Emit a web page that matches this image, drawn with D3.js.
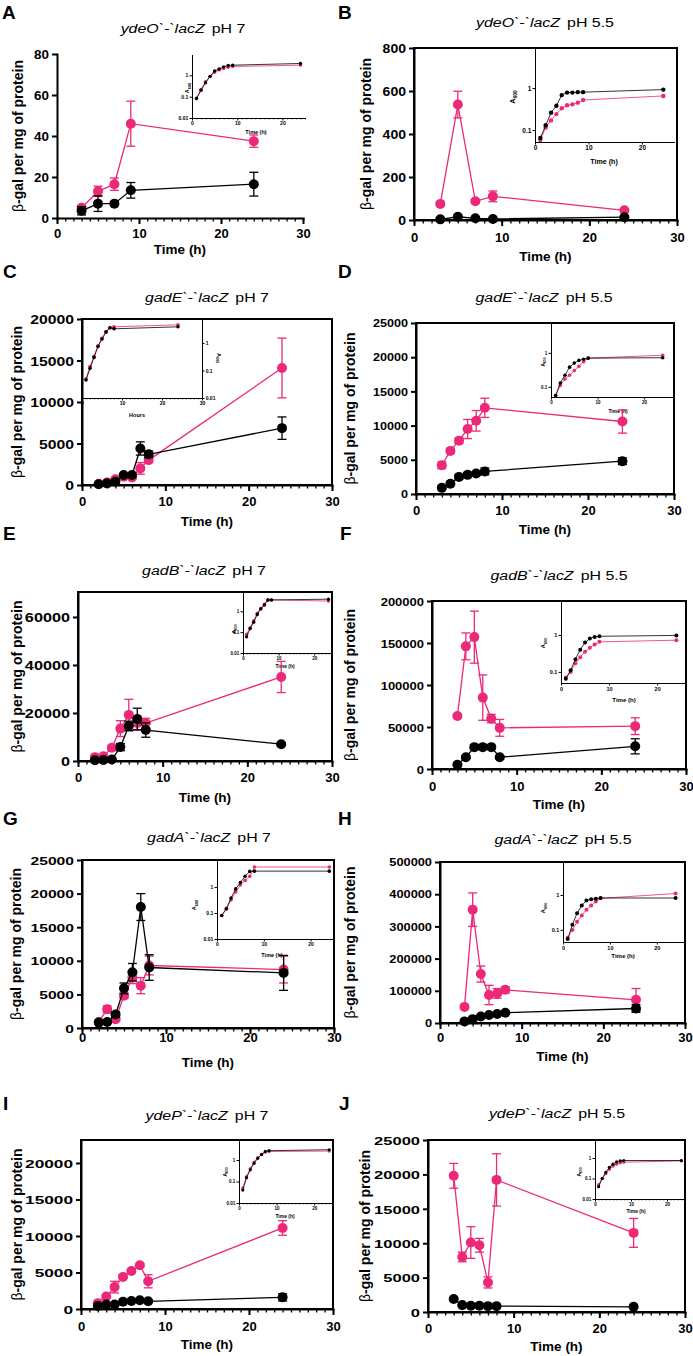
<!DOCTYPE html>
<html><head><meta charset="utf-8">
<script src="https://cdn.jsdelivr.net/npm/d3@7"></script>
<style>body{margin:0;background:#fff} svg{display:block}</style>
</head><body>
<svg id="fig" width="693" height="1356"></svg>
<script>
// ---------------- DATA ----------------
const letters = ["A","B","C","D","E","F","G","H","I","J"];
const genes = ["ydeO`-`lacZ","ydeO`-`lacZ","gadE`-`lacZ","gadE`-`lacZ","gadB`-`lacZ","gadB`-`lacZ","gadA`-`lacZ","gadA`-`lacZ","ydeP`-`lacZ","ydeP`-`lacZ"];
const phs = ["pH 7","pH 5.5","pH 7","pH 5.5","pH 7","pH 5.5","pH 7","pH 5.5","pH 7","pH 5.5"];
const xTicksMain = [0,10,20,30];
const insetLogTicks = [0.01,0.1,1];

// A
const timeA = [3,5,7,9,24];
const pinkA = [5,13,16.5,46,37.5];
const pinkErrA = [1,2.5,3,11,3];
const blackA = [3.5,7,7,13.5,16.5];
const blackErrA = [2,3.8,0.5,3.8,5.8];
const yTicksA = [0,20,40,60,80];
const insetTimeA = [1,2,3,4,5,6,7,8,9,24];
const insetPinkA = [0.08,0.22,0.5,0.9,1.4,1.8,2.1,2.4,2.6,3.0];
const insetBlackA = [0.085,0.2,0.45,0.9,1.6,2.0,2.5,2.9,3.0,3.6];
// B
const timeB = [3,5,7,9,24];
const pinkB = [75,537,87,110,45];
const pinkErrB = [5,62,8,25,6];
const blackB = [3,15,8,5,13];
const blackErrB = [1,4,2,1,5];
const yTicksB = [0,200,400,600,800];
const insetTimeB = [1,2,3,4,5,6,7,8,9,24];
const insetPinkB = [0.058,0.115,0.17,0.24,0.33,0.39,0.41,0.45,0.52,0.65];
const insetBlackB = [0.065,0.13,0.26,0.38,0.68,0.78,0.78,0.8,0.8,0.92];
// C
const timeC = [2,3,4,5,6,7,8,24];
const pinkC = [150,300,700,1000,900,2000,3000,14100];
const pinkErrC = [50,100,200,200,200,700,300,3600];
const blackC = [100,200,400,1200,1200,4400,3700,6850];
const blackErrC = [50,50,100,150,150,800,400,1350];
const yTicksC = [0,5000,10000,15000,20000];
const insetTimeC = [1,2,3,4,5,6,7,8,24];
const insetPinkC = [0.05,0.14,0.33,0.8,1.5,2.6,3.6,3.9,4.6];
const insetBlackC = [0.045,0.12,0.3,0.75,1.4,2.5,3.6,3.3,3.9];
// D
const timeD = [3,4,5,6,7,8,24];
const pinkD = [4200,6300,7800,9500,10700,12600,10600];
const pinkErrD = [500,300,400,1400,1500,1400,1700];
const blackD = [900,1500,2500,2800,3000,3300,4800];
const blackErrD = [100,200,300,300,300,500,500];
const yTicksD = [0,5000,10000,15000,20000,25000];
const insetTimeD = [1,2,3,4,5,6,7,8,24];
const insetPinkD = [0.055,0.11,0.17,0.22,0.3,0.4,0.55,0.7,0.85];
const insetBlackD = [0.055,0.13,0.22,0.38,0.5,0.6,0.65,0.7,0.72];
// E
const timeE = [2,3,4,5,6,7,8,24];
const pinkE = [1600,2000,5500,13500,19200,15800,15800,35000];
const pinkErrE = [300,500,1000,3300,6500,3000,2000,6500];
const blackE = [300,400,600,5800,14600,17500,12900,7000];
const blackErrE = [100,100,200,1500,2000,4500,3000,600];
const yTicksE = [0,20000,40000,60000];
const insetTimeE = [1,2,3,4,5,6,7,8,24];
const insetPinkE = [0.08,0.16,0.35,0.8,1.4,2.2,3.5,3.5,3.1];
const insetBlackE = [0.06,0.15,0.3,0.7,1.3,2.0,3.5,3.5,3.8];
// F
const timeF = [3,4,5,6,7,8,24];
const pinkF = [63000,146000,157000,85000,60000,49000,51000];
const pinkErrF = [2000,16000,31000,27000,5000,10000,10000];
const blackF = [5000,14000,26000,26000,26000,14000,27000];
const blackErrF = [1000,2000,3000,2000,2000,2000,9000];
const yTicksF = [0,50000,100000,150000,200000];
const insetTimeF = [1,2,3,4,5,6,7,8,24];
const insetPinkF = [0.07,0.1,0.17,0.25,0.35,0.45,0.55,0.65,0.72];
const insetBlackF = [0.065,0.11,0.22,0.4,0.62,0.8,0.88,0.92,0.97];
// G
const timeG = [2,3,4,5,6,7,8,24];
const pinkG = [900,2800,1300,4800,7500,6300,9300,8700];
const pinkErrG = [200,500,300,400,900,1200,1400,2000];
const blackG = [800,900,2000,5900,8300,18000,9000,8200];
const blackErrG = [200,200,400,800,1300,2000,1900,2600];
const yTicksG = [0,5000,10000,15000,20000,25000];
const insetTimeG = [1,2,3,4,5,6,7,8,24];
const insetPinkG = [0.08,0.14,0.32,0.65,1.2,1.8,2.6,5.9,5.9];
const insetBlackG = [0.08,0.15,0.38,0.85,1.5,2.6,4.0,4.1,4.1];
// H
const timeH = [3,4,5,6,7,8,24];
const pinkH = [50000,352000,152000,87000,92000,103000,72000];
const pinkErrH = [2000,52000,25000,30000,15000,10000,35000];
const blackH = [5000,12000,20000,25000,28000,32000,45000];
const blackErrH = [1000,1500,2000,2000,2000,2000,12000];
const yTicksH = [0,100000,200000,300000,400000,500000];
const insetTimeH = [1,2,3,4,5,6,7,8,24];
const insetPinkH = [0.06,0.1,0.17,0.26,0.38,0.5,0.65,0.8,1.1];
const insetBlackH = [0.055,0.14,0.3,0.5,0.7,0.75,0.78,0.82,0.82];
// I
const timeI = [2,3,4,5,6,7,8,24];
const pinkI = [800,1700,3000,4400,5200,6000,3800,11100];
const pinkErrI = [100,200,800,200,200,200,900,1000];
const blackI = [400,600,600,1000,1100,1200,1050,1600];
const blackErrI = [100,100,100,100,100,100,100,500];
const yTicksI = [0,5000,10000,15000,20000];
const insetTimeI = [1,2,3,4,5,6,7,8,24];
const insetPinkI = [0.05,0.17,0.4,0.8,1.3,1.8,2.3,2.5,2.6];
const insetBlackI = [0.04,0.15,0.35,0.7,1.2,1.8,2.5,2.7,3.0];
// J
const timeJ = [3,4,5,6,7,8,24];
const pinkJ = [19800,8000,10100,9700,4300,19200,11500];
const pinkErrJ = [1800,700,2300,1000,800,3800,2100];
const blackJ = [1900,1000,900,900,850,850,750];
const blackErrJ = [100,100,50,50,50,50,50];
const yTicksJ = [0,5000,10000,15000,20000,25000];
const insetTimeJ = [1,2,3,4,5,6,7,8,24];
const insetPinkJ = [0.05,0.1,0.17,0.28,0.4,0.5,0.58,0.62,0.72];
const insetBlackJ = [0.04,0.1,0.2,0.35,0.5,0.65,0.72,0.75,0.75];

const series = {
  A:{t:timeA,p:pinkA,pe:pinkErrA,b:blackA,be:blackErrA,yt:yTicksA,it:insetTimeA,ip:insetPinkA,ib:insetBlackA},
  B:{t:timeB,p:pinkB,pe:pinkErrB,b:blackB,be:blackErrB,yt:yTicksB,it:insetTimeB,ip:insetPinkB,ib:insetBlackB},
  C:{t:timeC,p:pinkC,pe:pinkErrC,b:blackC,be:blackErrC,yt:yTicksC,it:insetTimeC,ip:insetPinkC,ib:insetBlackC},
  D:{t:timeD,p:pinkD,pe:pinkErrD,b:blackD,be:blackErrD,yt:yTicksD,it:insetTimeD,ip:insetPinkD,ib:insetBlackD},
  E:{t:timeE,p:pinkE,pe:pinkErrE,b:blackE,be:blackErrE,yt:yTicksE,it:insetTimeE,ip:insetPinkE,ib:insetBlackE},
  F:{t:timeF,p:pinkF,pe:pinkErrF,b:blackF,be:blackErrF,yt:yTicksF,it:insetTimeF,ip:insetPinkF,ib:insetBlackF},
  G:{t:timeG,p:pinkG,pe:pinkErrG,b:blackG,be:blackErrG,yt:yTicksG,it:insetTimeG,ip:insetPinkG,ib:insetBlackG},
  H:{t:timeH,p:pinkH,pe:pinkErrH,b:blackH,be:blackErrH,yt:yTicksH,it:insetTimeH,ip:insetPinkH,ib:insetBlackH},
  I:{t:timeI,p:pinkI,pe:pinkErrI,b:blackI,be:blackErrI,yt:yTicksI,it:insetTimeI,ip:insetPinkI,ib:insetBlackI},
  J:{t:timeJ,p:pinkJ,pe:pinkErrJ,b:blackJ,be:blackErrJ,yt:yTicksJ,it:insetTimeJ,ip:insetPinkJ,ib:insetBlackJ}
};

// ---------------- LAYOUT ----------------
const layout = {
  A:{letter:[2,19],title:[183,33],x0:57,x1:303,yTop:54,yBot:218,yMax:80,box:false,yLabX:23,xLabBase:238,xTitleBase:254,tickFs:12,tickSx:1.12,
     inset:{x0:192,x1:305,xMax:25,yBot:118,yTop:55,yMin:0.01,yMax:9,side:"left",fs:5,r:1.7,minor:true,xTicks:[0,10,20],xLabel:"Time (h)",xLab:[256,134],a600:[189,88]}},
  B:{letter:[338,19],title:[545,27],x0:414,x1:677,yTop:48,yBot:220,yMax:800,box:true,yLabX:371,xLabBase:242,xTitleBase:261,tickFs:12,tickSx:1.17,
     inset:{x0:535,x1:674,xMax:26,yBot:142,yTop:48,yMin:0.052,yMax:9,side:"left",fs:6.5,r:2.2,minor:false,xTicks:[0,10,20],xLabel:"Time (h)",xLab:[604,164],a600:[515,97]}},
  C:{letter:[3,278],title:[207,302],x0:82,x1:332,yTop:319,yBot:485,yMax:20000,box:true,yLabX:22,xLabBase:506,xTitleBase:526,tickFs:12.5,tickSx:1.26,
     inset:{x0:82,x1:202,xMax:30,yBot:398,yTop:319,yMin:0.01,yMax:7.5,side:"right",fs:5,r:1.8,minor:true,xTicks:[0,10,20,30],xLabel:"Hours",xLab:[137,417],a600:[217,358]}},
  D:{letter:[338,278],title:[544,302],x0:416,x1:674,yTop:323,yBot:494,yMax:25000,box:true,yLabX:355,xLabBase:515,xTitleBase:534,tickFs:10.5,tickSx:1.2,
     inset:{x0:551,x1:672,xMax:26,yBot:397,yTop:323,yMin:0.05,yMax:7.6,side:"left",fs:4.5,r:1.8,minor:false,xTicks:[0,10,20],xLabel:"Time (h)",xLab:[618,413],a600:[545,362]}},
  E:{letter:[3,540],title:[204,575],x0:78,x1:332,yTop:592,yBot:761,yMax:70400,box:true,yLabX:22,xLabBase:782,xTitleBase:802,tickFs:12.5,tickSx:1.3,
     inset:{x0:243,x1:332,xMax:25,yBot:653,yTop:592,yMin:0.01,yMax:8.4,side:"left",fs:4.5,r:1.7,minor:true,xTicks:[0,10,20],xLabel:"Time (h)",xLab:[285,668],a600:[236,629]}},
  F:{letter:[340,540],title:[559,580],x0:432,x1:686,yTop:601,yBot:769,yMax:200000,box:true,yLabX:355,xLabBase:791,xTitleBase:809,tickFs:11.5,tickSx:1.13,
     inset:{x0:561,x1:686,xMax:26,yBot:683,yTop:601,yMin:0.05,yMax:8.3,side:"left",fs:5.5,r:2,minor:false,xTicks:[0,10,20],xLabel:"Time (h)",xLab:[624,702],a600:[545,643]}},
  G:{letter:[3,825],title:[209,842],x0:82,x1:334,yTop:860,yBot:1028,yMax:25000,box:true,yLabX:21,xLabBase:1042,xTitleBase:1067,tickFs:11.5,tickSx:1.36,
     inset:{x0:217,x1:334,xMax:25,yBot:939,yTop:860,yMin:0.01,yMax:11,side:"left",fs:5,r:1.8,minor:false,xTicks:[0,10,20],xLabel:"Time (h)",xLab:[272,957],a600:[196,905]}},
  H:{letter:[338,825],title:[563,844],x0:440,x1:685,yTop:862,yBot:1023,yMax:500000,box:true,yLabX:355,xLabBase:1042,xTitleBase:1061,tickFs:10.5,tickSx:1.22,
     inset:{x0:563,x1:685,xMax:26,yBot:942,yTop:862,yMin:0.045,yMax:8.8,side:"left",fs:5.5,r:2,minor:false,xTicks:[0,10,20],xLabel:"Time (h)",xLab:[623,958],a600:[545,908]}},
  I:{letter:[3,1110],title:[207,1120],x0:81,x1:333,yTop:1140,yBot:1309,yMax:23150,box:true,yLabX:22,xLabBase:1331,xTitleBase:1349,tickFs:11.5,tickSx:1.5,
     inset:{x0:239,x1:333,xMax:25,yBot:1203,yTop:1140,yMin:0.01,yMax:8.5,side:"left",fs:4.5,r:1.6,minor:true,xTicks:[0,10,20],xLabel:"Time (h)",xLab:[285,1218],a600:[227,1172]}},
  J:{letter:[339,1110],title:[557,1118],x0:428,x1:685,yTop:1140,yBot:1312,yMax:25000,box:true,yLabX:370,xLabBase:1333,xTitleBase:1351,tickFs:11.8,tickSx:1.4,
     inset:{x0:595,x1:685,xMax:25,yBot:1199,yTop:1140,yMin:0.01,yMax:7.5,side:"left",fs:4.5,r:1.6,minor:true,xTicks:[0,10,20],xLabel:"Time (h)",xLab:[636,1213],a600:[581,1172]}}
};

// ---------------- DRAW ----------------
const PINK = "#EC2879", BLACK = "#000000";
const FONT = "'Liberation Sans', Arial, Helvetica, sans-serif";
const svg = d3.select("#fig");
svg.append("rect").attr("width",693).attr("height",1356).attr("fill","#fff");

function styleAxis(sel, lw, fs, weight) {
  sel.attr("font-family", FONT);
  sel.select(".domain").attr("stroke-width", lw).attr("stroke-linecap","square");
  sel.selectAll(".tick line").attr("stroke-width", lw);
  sel.selectAll(".tick text").attr("font-size", fs).attr("font-weight", weight).attr("fill","#000");
}

function drawSeries(g, x, y, t, v, e, color, r, lw, cap) {
  const pts = t.map((tt,i)=>({t:tt, v:v[i], e:e ? e[i] : 0}));
  const s = g.append("g");
  const eb = pts.filter(d=>d.e>0);
  s.selectAll("line.ev").data(eb).join("line").attr("class","ev")
    .attr("x1",d=>x(d.t)).attr("x2",d=>x(d.t)).attr("y1",d=>y(Math.max(d.v-d.e, 0.0001))).attr("y2",d=>y(d.v+d.e))
    .attr("stroke",color).attr("stroke-width",lw);
  s.selectAll("line.ct").data(eb).join("line").attr("class","ct")
    .attr("x1",d=>x(d.t)-cap).attr("x2",d=>x(d.t)+cap).attr("y1",d=>y(d.v+d.e)).attr("y2",d=>y(d.v+d.e))
    .attr("stroke",color).attr("stroke-width",lw);
  s.selectAll("line.cb").data(eb).join("line").attr("class","cb")
    .attr("x1",d=>x(d.t)-cap).attr("x2",d=>x(d.t)+cap).attr("y1",d=>y(Math.max(d.v-d.e,0.0001))).attr("y2",d=>y(Math.max(d.v-d.e,0.0001)))
    .attr("stroke",color).attr("stroke-width",lw);
  s.append("path").datum(pts).attr("d", d3.line().x(d=>x(d.t)).y(d=>y(d.v)))
    .attr("fill","none").attr("stroke",color).attr("stroke-width",lw);
  s.selectAll("circle").data(pts).join("circle").attr("cx",d=>x(d.t)).attr("cy",d=>y(d.v)).attr("r",r).attr("fill",color);
}

function drawInset(g, I, S) {
  const x = d3.scaleLinear().domain([0, I.xMax]).range([I.x0, I.x1]);
  const y = d3.scaleLog().domain([I.yMin, I.yMax]).range([I.yBot, I.yTop]);
  const ig = g.append("g");
  if (I.minor) {
    const m = ig.append("g").attr("transform",`translate(0,${I.yBot})`)
      .call(d3.axisBottom(x).tickValues(d3.range(0, Math.floor(I.xMax)+1)).tickSize(1.5).tickFormat(""));
    m.select(".domain").remove();
    m.selectAll(".tick line").attr("stroke-width",0.6);
  }
  const xa = ig.append("g").attr("transform",`translate(0,${I.yBot})`)
    .call(d3.axisBottom(x).tickValues(I.xTicks).tickSize(2.5).tickSizeOuter(0).tickPadding(1.2).tickFormat(d3.format("d")));
  styleAxis(xa, 1, I.fs, "bold");
  const yFn = I.side === "right" ? d3.axisRight(y) : d3.axisLeft(y);
  const ya = ig.append("g").attr("transform",`translate(${I.side==="right"?I.x1:I.x0},0)`)
    .call(yFn.tickValues(insetLogTicks.filter(v=>v>=I.yMin && v<=I.yMax)).tickSize(2.5).tickSizeOuter(0).tickPadding(1.2).tickFormat(d=>String(d)));
  styleAxis(ya, 1, I.fs, "bold");
  ig.append("text").attr("x",I.xLab[0]).attr("y",I.xLab[1]).attr("text-anchor","middle")
    .attr("font-family",FONT).attr("font-size",I.fs*1.1).attr("font-weight","bold").text(I.xLabel);
  const a = ig.append("text").attr("transform",`translate(${I.a600[0]},${I.a600[1]}) rotate(${I.side==="right"?90:-90})`)
    .attr("text-anchor","middle").attr("font-family",FONT).attr("font-size",I.fs*1.1).attr("font-weight","bold");
  a.append("tspan").text("A");
  a.append("tspan").attr("font-size",I.fs*0.75).attr("dy",I.fs*0.3).text("600");
  drawSeries(ig, x, y, S.it, S.ip, null, PINK, I.r, 0.8, 0);
  drawSeries(ig, x, y, S.it, S.ib, null, BLACK, I.r, 0.8, 0);
}

function drawPanel(key, idx) {
  const L = layout[key], S = series[key];
  const g = svg.append("g");
  const x = d3.scaleLinear().domain([0,30]).range([L.x0, L.x1]);
  const y = d3.scaleLinear().domain([0, L.yMax]).range([L.yBot, L.yTop]);

  g.append("text").attr("x",L.letter[0]).attr("y",L.letter[1]).attr("font-size",19).attr("font-weight","bold")
    .attr("font-family",FONT).text(letters[idx]);

  const tt = g.append("text").attr("transform",`translate(${L.title[0]},${L.title[1]}) scale(1.18,1)`)
    .attr("text-anchor","middle").attr("font-size",13.5).attr("font-family",FONT);
  tt.append("tspan").attr("font-style","italic").text(genes[idx]);
  tt.append("tspan").attr("dx",6).text(phs[idx]);

  drawInset(g, L.inset, S);

  if (L.box) g.append("rect").attr("x",L.x0).attr("y",L.yTop).attr("width",L.x1-L.x0).attr("height",L.yBot-L.yTop)
    .attr("fill","none").attr("stroke","#000").attr("stroke-width",2);

  const xm = g.append("g").attr("transform",`translate(0,${L.yBot})`)
    .call(d3.axisBottom(x).tickValues(d3.range(0,31)).tickSize(3.5).tickFormat(""));
  xm.select(".domain").remove();
  xm.selectAll(".tick line").attr("stroke-width",1.3);
  const xM = g.append("g").attr("transform",`translate(0,${L.yBot})`)
    .call(d3.axisBottom(x).tickValues(xTicksMain).tickSize(6).tickSizeOuter(0).tickFormat(d3.format("d")));
  styleAxis(xM, 2, 13, "bold");
  xM.selectAll(".tick text").attr("y", L.xLabBase - L.yBot).attr("dy", 0);
  g.append("text").attr("x",(L.x0+L.x1)/2).attr("y",L.xTitleBase).attr("text-anchor","middle")
    .attr("font-size",13.5).attr("font-weight","bold").attr("font-family",FONT).text("Time (h)");

  const ya = g.append("g").attr("transform",`translate(${L.x0},0)`)
    .call(d3.axisLeft(y).tickValues(S.yt).tickSize(5).tickSizeOuter(0).tickFormat(d3.format("d")));
  styleAxis(ya, 2, L.tickFs, "bold");
  ya.selectAll(".tick text").attr("x", -8 / L.tickSx).attr("transform",`scale(${L.tickSx},1)`).attr("dy","0.36em");

  const yl = g.append("text").attr("transform",`translate(${L.yLabX},${(L.yTop+L.yBot)/2}) rotate(-90)`)
    .attr("text-anchor","middle").attr("font-size",14).attr("font-family",FONT);
  yl.append("tspan").text("β");
  yl.append("tspan").attr("font-weight","bold").text("-gal per mg of protein");

  drawSeries(g, x, y, S.t, S.p, S.pe, PINK, 5, 1.3, 4.5);
  drawSeries(g, x, y, S.t, S.b, S.be, BLACK, 5, 1.3, 4.5);
}

letters.forEach((k,i)=>drawPanel(k,i));
</script>
</body></html>
